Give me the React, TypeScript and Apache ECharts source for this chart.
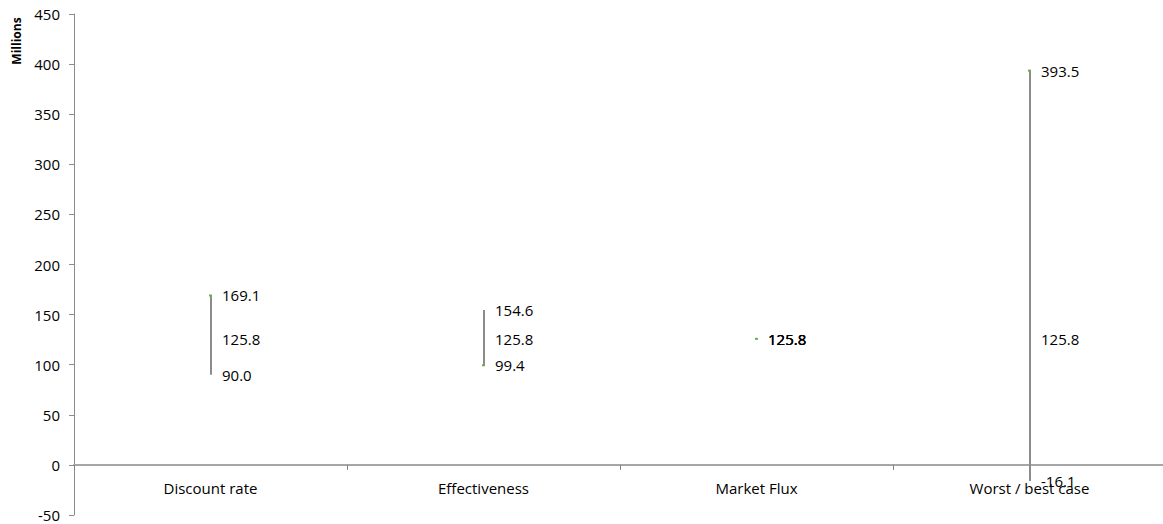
import React, { useEffect, useRef } from "react";
import * as echarts from "echarts";

const categories = ["Discount rate", "Effectiveness", "Market Flux", "Worst / best case"];
const highs = [169.1, 154.6, 125.8, 393.5];
const lows = [90.0, 99.4, 125.8, -16.1];
const bases = [125.8, 125.8, 125.8, 125.8];
const markerValues = [169.1, 99.4, 125.8, 393.5];
const yTicks = { min: -50, max: 450, interval: 50 };

const FONT = "'Open Sans', sans-serif";

export default function App() {
  const ref = useRef<HTMLDivElement>(null);
  useEffect(() => {
    if (!ref.current) return;
    const chart = echarts.init(ref.current, null, { renderer: "svg" });
    const data = categories.map((_, i) => [i, lows[i], highs[i], bases[i], markerValues[i]]);
    const fmt = (v: number) => v.toFixed(1);
    chart.setOption({
      animation: false,
      textStyle: { fontFamily: FONT },
      grid: { left: 74, top: 14, bottom: 9, width: 1092, containLabel: false, outerBoundsMode: "none" },
      xAxis: {
        type: "category",
        data: categories,
        axisLine: { onZero: true, lineStyle: { color: "#a6a6a6", width: 2 } },
        axisTick: { show: true, length: 5, lineStyle: { color: "#808080" } },
        axisLabel: { show: false },
        splitLine: { show: false },
      },
      yAxis: {
        type: "value",
        min: yTicks.min,
        max: yTicks.max,
        interval: yTicks.interval,
        axisLine: { show: true, lineStyle: { color: "#8c8c8c", width: 1 } },
        axisTick: { show: true, length: 5, lineStyle: { color: "#8c8c8c" } },
        axisLabel: { color: "#000", fontSize: 15, margin: 14, fontFamily: FONT },
        splitLine: { show: false },
      },
      graphic: [
        {
          type: "text",
          x: 16,
          y: 41,
          rotation: Math.PI / 2,
          style: {
            text: "Millions",
            font: `bold 12px ${FONT}`,
            fill: "#000",
            textAlign: "center",
            textVerticalAlign: "middle",
          },
        },
      ],
      series: [
        {
          type: "custom",
          data,
          encode: { x: 0, y: [1, 2] },
          renderItem: (params: any, api: any) => {
            const idx = api.value(0);
            const lo = api.value(1);
            const hi = api.value(2);
            const mid = api.value(3);
            const mk = api.value(4);
            const pLo = api.coord([idx, lo]);
            const pHi = api.coord([idx, hi]);
            const pMid = api.coord([idx, mid]);
            const pMk = api.coord([idx, mk]);
            const pZero = api.coord([idx, 0]);
            const x = Math.round(pLo[0]);
            const tx = x + 11;
            const txt = (v: number, y: number) => ({
              type: "text",
              style: {
                text: fmt(v),
                x: tx,
                y,
                fill: "#000",
                font: `15px ${FONT}`,
                textAlign: "left",
                textVerticalAlign: "middle",
              },
            });
            return {
              type: "group",
              children: [
                {
                  type: "text",
                  style: {
                    text: categories[idx],
                    x: pZero[0],
                    y: pZero[1] + 23,
                    fill: "#000",
                    font: `15px ${FONT}`,
                    textAlign: "center",
                    textVerticalAlign: "middle",
                  },
                },
                {
                  type: "line",
                  shape: { x1: x, y1: pLo[1], x2: x, y2: pHi[1] },
                  style: { stroke: "#8c8c8c", lineWidth: 2 },
                },
                {
                  type: "rect",
                  shape: { x: x - 2, y: pMk[1] - 1, width: 3, height: 2 },
                  style: { fill: "#70ad47" },
                },
                txt(hi, pHi[1]),
                txt(mid, pMid[1]),
                txt(lo, pLo[1]),
              ],
            };
          },
        },
      ],
    });
    return () => chart.dispose();
  }, []);
  return <div ref={ref} style={{ width: 1163, height: 524, position: "absolute", left: 0, top: 0 }} />;
}
